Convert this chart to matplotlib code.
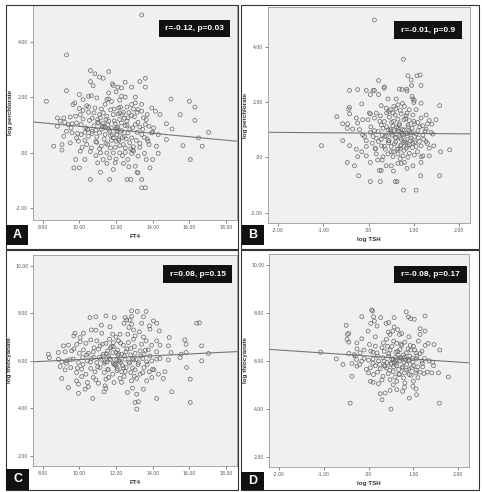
import matplotlib
matplotlib.use("Agg")
import matplotlib.pyplot as plt
from matplotlib.patches import Rectangle
import numpy as np

# ---------------- DATA ----------------
# Panel A: FT4 vs log perchlorate
a_ft4 = [13.4, 9.3, 8.2, 9.3, 10.6, 11.6, 10.85, 13.6, 11.1,
         10.6, 12.5, 13.3, 11.8, 11.85, 12.1, 12.3, 12.85, 13.6, 10.75, 11.3,
         10.0, 10.5, 10.65, 11.5, 12.3, 12.5, 13.05, 11.6, 10.95,
         9.75, 9.65, 10.4, 10.5, 10.85, 11.6, 11.2, 11.9, 12.15, 12.6, 12.85, 13.05, 12.95, 13.2, 13.95, 15.0, 16.0, 16.3, 10.2,
         8.8, 9.15, 9.5, 9.8, 10.05, 10.2, 10.5, 10.8, 11.1, 11.3, 11.5, 11.85, 12.2, 12.35, 12.4, 12.65, 12.85, 13.15, 13.4, 13.5, 13.7, 14.15, 14.4, 15.5, 10.2, 11.15,
         8.8, 8.95, 9.2, 9.4, 9.55, 9.85, 10.1, 10.35, 10.55, 10.8, 11.05, 11.35, 11.6, 11.75, 11.95, 12.1, 12.3, 12.5, 12.75, 13.05, 13.3, 13.6, 13.8, 14.05, 14.75, 15.05, 16.3, 11.2, 12.2,
         9.15, 9.3, 9.6, 9.85, 10.1, 10.3, 10.5, 10.7, 10.95, 11.1, 11.4, 11.65, 11.85, 12.05, 12.25, 12.45, 12.65, 12.85, 13.15, 13.4, 13.7, 13.95, 14.3, 14.75, 16.5, 17.05,
         8.6, 9.05, 9.5, 9.95, 10.4, 10.65, 10.95, 11.2, 11.45, 11.7, 12.0, 12.2, 12.5, 12.75, 12.95, 13.3, 13.75, 14.2, 15.65, 16.7,
         9.05, 10.05, 11.15, 11.5, 11.85, 12.2, 12.5, 12.85, 12.95, 13.2, 13.55, 14.3, 9.8, 10.3, 11.3, 11.65, 12.0, 12.65, 13.65, 14.0, 16.05,
         9.7, 10.0, 11.0, 11.5, 11.95, 12.4, 13.05, 13.2, 13.85, 11.15,
         10.6, 11.65, 12.6, 12.8, 13.15, 13.4, 13.4, 13.6,
         10.9, 11.4, 11.7, 12.0, 12.15, 11.3, 10.7, 12.6, 11.0, 12.35, 11.75, 10.45, 12.9, 11.55, 12.05,
         10.3, 10.45, 10.7, 10.9, 11.0, 11.1, 11.25, 11.35, 11.45, 11.55, 11.6, 11.7, 11.8, 11.9, 11.95, 12.05, 12.1, 12.15, 12.25, 12.3,
         12.4, 12.45, 12.55, 12.6, 12.7, 12.8, 12.9, 13.0, 13.1, 13.2, 13.3, 13.45, 13.55, 13.65, 13.8, 14.0, 11.75, 12.0, 11.4, 10.6,
         10.9, 12.35, 12.7, 11.85, 9.9, 10.15, 9.6, 10.0, 12.2, 13.4]
a_perc = [4.97, 3.53, 1.86, 2.24, 2.97, 2.93, 2.85, 2.69, 2.73,
          2.57, 2.55, 2.57, 2.49, 2.43, 2.37, 2.34, 2.37, 2.37, 2.42, 2.69,
          2.1, 2.04, 2.06, 1.92, 2.04, 2.01, 2.01, 2.16, 1.98,
          1.8, 1.74, 1.7, 1.65, 1.62, 1.94, 1.58, 1.58, 1.62, 1.65, 1.74, 1.8, 1.58, 1.56, 1.62, 1.94, 1.86, 1.65, 1.92,
          1.26, 1.26, 1.29, 1.32, 1.38, 1.53, 1.46, 1.44, 1.38, 1.44, 1.32, 1.38, 1.44, 1.38, 1.46, 1.26, 1.35, 1.46, 1.5, 1.26, 1.38, 1.5, 1.38, 1.38, 1.22, 1.26,
          0.96, 1.14, 1.1, 1.02, 0.9, 1.08, 1.02, 0.9, 1.17, 0.98, 1.08, 0.96, 1.14, 0.9, 1.05, 0.93, 1.08, 0.98, 0.86, 1.02, 0.93, 1.02, 0.96, 0.9, 1.05, 0.86, 1.17, 0.86, 1.2,
          0.6, 0.78, 0.72, 0.54, 0.66, 0.74, 0.6, 0.78, 0.57, 0.72, 0.66, 0.78, 0.54, 0.66, 0.74, 0.6, 0.72, 0.54, 0.74, 0.66, 0.5, 0.72, 0.66, 0.48, 0.54, 0.74,
          0.24, 0.3, 0.36, 0.42, 0.3, 0.18, 0.38, 0.24, 0.34, 0.18, 0.42, 0.26, 0.18, 0.36, 0.22, 0.34, 0.42, 0.24, 0.26, 0.24,
          0.1, 0.06, 0.0, 0.0, 0.0, 0.0, 0.02, -0.02, 0.06, -0.12, -0.02, -0.02, -0.24, -0.24, -0.24, -0.18, -0.22, -0.24, -0.24, -0.24, -0.24,
          -0.54, -0.54, -0.36, -0.38, -0.36, -0.38, -0.48, -0.72, -0.54, -0.7,
          -0.96, -0.96, -0.96, -0.96, -0.7, -0.96, -1.26, -1.26,
          0.82, 0.9, 0.62, 0.86, 0.5, 1.05, 0.7, 1.15, 1.2, 0.55, 0.45, 0.85, 0.1, 1.02, 0.78,
          0.45, 0.85, 1.25, 0.4, 1.1, 0.15, 0.95, 0.5, 1.2, 0.3, 0.85, 1.55, 0.65, 1.15, 0.2, 0.9, 1.4, 0.45, 1.65, 0.8,
          0.3, 1.25, 0.5, 1.0, 1.45, 0.15, 0.9, 1.3, 0.45, 1.1, 0.2, 0.85, 0.55, 1.2, 0.3, 0.75, 1.85, 2.2, 1.75, 0.05,
          -0.1, -0.1, -0.5, -0.6, 0.7, 0.2, 1.05, 1.6, 1.9, 1.75]

# Panel B: log TSH vs log perchlorate
b_tsh = [0.13, 0.77,
         0.87, 0.94, 1.07, 1.14, 1.16, 0.22, 0.34, 0.84,
         -0.42, -0.24, -0.05, 0.1, 0.13, 0.68, 0.74, 0.04, 0.22, 0.43, 0.61, 0.98, 1.01, 0.96, 0.35,
         -0.42, -0.44, -0.15, 0.02, 0.17, 0.28, 0.39, 0.48, 0.56, 0.65, 0.7, 0.79, 0.9, 1.0, 1.05, 1.16, 1.57, 0.54, 0.85, 0.4,
         -0.7, -0.42, -0.27, -0.13, 0.04, 0.13, 0.26, 0.35, 0.46, 0.51, 0.59, 0.65, 0.72, 0.78, 0.83, 0.9, 0.98, 1.09, 1.16, 1.27, 1.34, 1.49, -0.46, -0.24, -0.57, -0.01, 0.28, 0.54, 0.68, 0.87, 1.01, 1.19, 1.3,
         -0.47, -0.35, -0.13, -0.09, 0.04, 0.13, 0.21, 0.32, 0.39, 0.43, 0.49, 0.56, 0.59, 0.65, 0.71, 0.76, 0.79, 0.85, 0.9, 0.96, 1.01, 1.09, 1.2, 1.27, 1.38, 1.42, 0.17, 0.28, 0.72, 0.94, 1.22,
         -1.04, -0.57, -0.42, -0.27, -0.05, 0.08, 0.15, 0.22, 0.29, 0.37, 0.44, 0.5, 0.57, 0.63, 0.71, 0.78, 0.83, 0.9, 0.98, 1.05, 1.12, 1.16, 1.27, 1.34, 1.44, 1.59, 1.79,
         -0.24, -0.05, 0.17, 0.32, 0.43, 0.54, 0.65, 0.76, 0.87, 1.01, 1.16, 1.34, -0.47, 0.04, 0.2, 0.39, 0.5, 0.65, 0.79, 0.98, 1.16,
         -0.31, -0.22, 0.24, 0.28, 0.59, 0.63, 0.04, 0.26, 1.15, 1.57, 0.77, 1.05, 0.72,
         0.52, 0.6, 0.66, 0.45, 0.74, 0.82, 0.36, 0.92, 0.55, 0.7, 0.62, 0.48,
         0.3, 0.35, 0.4, 0.45, 0.5, 0.5, 0.55, 0.6, 0.62, 0.65, 0.68, 0.7, 0.72, 0.75, 0.78, 0.8, 0.82, 0.84, 0.86, 0.88,
         0.9, 0.92, 0.95, 0.97, 1.0, 1.02, 1.05, 1.08, 1.1, 1.13, 0.25, 0.15, 0.1, 0.05, -0.05, -0.15, -0.2, 0.45, 0.6, 0.75,
         0.85, 0.95, 0.3, 0.55, 0.7, 0.85, 1.2, 1.25, 1.3, 1.4]
b_perc = [4.97, 3.55,
          2.95, 2.8, 2.95, 2.98, 2.6, 2.78, 2.5, 2.47,
          2.42, 2.45, 2.42, 2.42, 2.42, 2.47, 2.45, 2.27, 2.27, 2.11, 2.11, 2.11, 2.06, 2.2, 2.55,
          1.81, 1.74, 1.93, 1.6, 1.6, 1.87, 1.78, 1.72, 1.84, 1.9, 1.7, 1.84, 1.72, 1.98, 1.72, 1.96, 1.87, 1.6, 1.6, 1.6,
          1.47, 1.57, 1.42, 1.36, 1.57, 1.42, 1.5, 1.29, 1.45, 1.26, 1.53, 1.38, 1.57, 1.36, 1.5, 1.33, 1.53, 1.26, 1.42, 1.53, 1.33, 1.36, 1.21, 1.24, 1.21, 1.36, 1.17, 1.14, 1.21, 1.17, 1.21, 1.14, 1.21,
          1.05, 1.02, 0.81, 0.75, 0.9, 0.96, 0.93, 1.05, 0.77, 0.99, 0.87, 0.96, 0.72, 1.05, 0.9, 0.81, 0.99, 0.77, 0.93, 1.05, 0.75, 0.96, 0.81, 1.02, 0.9, 0.84, 0.69, 0.65, 0.65, 0.69, 0.65,
          0.42, 0.6, 0.42, 0.29, 0.39, 0.51, 0.33, 0.57, 0.41, 0.29, 0.53, 0.39, 0.48, 0.29, 0.41, 0.53, 0.33, 0.45, 0.51, 0.39, 0.57, 0.41, 0.57, 0.33, 0.41, 0.2, 0.27,
          0.02, 0.05, 0.12, 0.02, 0.12, 0.02, 0.12, 0.05, 0.0, 0.08, 0.02, 0.05, -0.19, -0.19, -0.1, -0.31, -0.31, -0.22, -0.19, -0.31, -0.19,
          -0.31, -0.67, -0.48, -0.48, -0.88, -0.88, -0.88, -0.88, -0.67, -0.67, -1.19, -1.19, -0.22,
          0.8, 0.7, 0.95, 0.6, 0.85, 0.55, 0.75, 0.88, 0.2, 0.3, 1.1, 1.0,
          0.8, 0.4, 1.1, 0.6, 0.95, 0.2, 1.3, 0.55, 0.85, 0.3, 1.15, 0.7, 0.45, 1.0, 0.25, 0.6, 1.4, 0.85, 0.4, 1.1,
          0.15, 0.6, 0.9, 0.35, 1.3, 0.55, 0.85, 0.2, 0.7, 1.1, 1.3, 0.3, 0.75, 1.1, 0.6, 0.2, 1.0, 1.65, 1.75, 1.95,
          2.4, 2.6, -0.1, -0.5, -0.05, -0.4, 0.05, 0.95, 0.5, 1.2]

# Panel C: FT4 vs log thiocyanate
c_ft4 = [12.85, 13.16, 13.64, 11.45, 11.9, 10.58, 10.9, 12.5, 12.85, 12.76, 12.58, 13.5, 12.44, 12.85, 14.04, 14.22, 13.82, 13.85, 14.36, 13.4,
         11.67, 16.4, 16.55, 12.95, 13.27, 12.64, 13.04, 10.9, 11.22, 11.82, 12.22, 10.22, 10.04, 9.7, 9.76, 15.76, 14.9, 14.4, 16.67, 15.82,
         9.13, 9.4, 9.85, 10.36, 10.62, 10.95, 11.13, 11.45, 11.64, 11.85, 12.13, 12.4, 12.67, 12.95, 13.4, 13.64, 13.95, 14.22, 14.86,
         8.31, 8.85, 9.22, 9.58, 10.0, 10.22, 10.49, 10.76, 11.04, 11.31, 11.53, 11.82, 12.07, 12.31, 12.55, 12.8, 13.04, 13.31, 13.53, 13.76, 14.22, 15.0, 15.55, 15.82,
         17.04, 16.67,
         8.36, 8.85, 9.04, 9.31, 9.67, 9.95, 10.18, 10.44, 10.67, 10.95, 11.16, 11.4, 11.64, 11.85, 12.04, 12.25, 12.49, 12.73, 12.95, 13.22, 13.45, 13.67, 13.95, 14.22, 14.85, 15.49,
         8.95, 9.22, 9.53, 9.85, 10.13, 10.36, 10.62, 10.85, 11.13, 11.35, 11.58, 11.82, 12.07, 12.31, 12.55, 12.8, 13.04, 13.31, 13.53, 13.82, 14.07, 14.31, 14.67, 15.85,
         9.04, 9.85, 10.13, 10.44, 10.76, 11.04, 11.45, 11.89, 12.22, 12.44, 12.85, 13.13, 13.67, 13.95, 14.58, 16.05, 9.95,
         9.4, 9.95, 10.31, 11.4, 11.45, 12.62, 13.13, 13.49, 15.04, 13.04, 13.22, 14.22, 16.05, 13.13, 10.49, 10.73,
         11.6, 11.95, 12.1, 11.7, 12.0, 12.2, 11.3, 12.4, 11.85, 10.8, 12.9, 11.5, 12.15,
         10.2, 10.4, 10.6, 10.8, 11.0, 11.1, 11.25, 11.35, 11.5, 11.55, 11.7, 11.75, 11.9, 12.0, 12.05, 12.15, 12.25, 12.35, 12.45, 12.5,
         12.6, 12.7, 12.8, 12.9, 13.0, 13.1, 13.2, 13.35, 13.45, 13.6, 13.7, 13.85, 14.0, 9.5, 9.7, 9.9, 10.05, 9.3, 10.65, 11.2,
         12.0, 12.7, 11.6, 12.3, 13.0, 10.9, 13.5, 14.4, 11.35, 12.9]
c_thio = [8.1, 8.08, 8.08, 7.89, 7.82, 7.82, 7.85, 7.82, 7.87, 7.72, 7.72, 7.85, 7.58, 7.54, 7.68, 7.58, 7.47, 7.33, 7.26, 7.58,
          7.43, 7.58, 7.6, 7.3, 7.22, 7.12, 7.05, 7.29, 7.16, 7.12, 7.12, 7.16, 6.98, 7.05, 7.16, 6.88, 6.98, 6.66, 6.63, 6.7,
          6.63, 6.66, 6.7, 6.74, 6.88, 6.84, 6.63, 6.74, 6.91, 6.77, 6.84, 6.66, 6.77, 6.91, 6.7, 6.84, 6.66, 6.84, 6.63,
          6.28, 6.35, 6.38, 6.42, 6.32, 6.46, 6.32, 6.38, 6.49, 6.28, 6.42, 6.35, 6.46, 6.28, 6.38, 6.52, 6.32, 6.42, 6.28, 6.46, 6.38, 6.35, 6.28, 6.35,
          6.31, 6.0,
          6.14, 6.07, 5.96, 6.0, 6.07, 5.93, 6.14, 6.0, 6.1, 5.93, 6.07, 5.96, 6.1, 5.9, 6.04, 5.93, 6.07, 5.9, 6.04, 5.93, 6.1, 5.96, 6.0, 6.07, 6.04, 6.14,
          5.76, 5.62, 5.72, 5.51, 5.65, 5.44, 5.68, 5.54, 5.72, 5.51, 5.62, 5.44, 5.68, 5.54, 5.72, 5.51, 5.62, 5.44, 5.72, 5.54, 5.62, 5.44, 5.54, 5.72,
          5.26, 5.16, 5.34, 5.09, 5.3, 5.06, 5.23, 5.09, 5.26, 5.34, 5.16, 5.26, 5.16, 5.3, 5.26, 5.23, 5.02,
          4.88, 4.64, 4.81, 4.95, 4.84, 4.67, 4.6, 4.81, 4.7, 4.25, 4.28, 4.42, 4.25, 3.97, 4.91, 4.42,
          6.2, 5.85, 6.25, 6.55, 5.8, 6.0, 6.2, 5.7, 6.6, 6.15, 6.1, 5.95, 6.3,
          5.85, 6.25, 5.95, 6.55, 5.75, 6.15, 6.7, 5.9, 6.3, 5.65, 6.05, 6.6, 5.85, 6.35, 5.6, 6.0, 6.75, 5.8, 6.2, 5.55,
          6.5, 5.95, 6.25, 5.7, 6.6, 6.05, 5.85, 6.2, 5.5, 6.45, 5.85, 6.2, 5.65, 6.05, 6.5, 5.7, 6.8, 5.9, 7.3, 7.5,
          7.0, 7.4, 5.3, 5.1, 5.35, 5.2, 7.0, 6.1, 4.7, 4.85]

# Panel D: log TSH vs log thiocyanate
d_tsh = [0.07, 0.09, 0.84, 1.26, -0.15, 0.11, 0.27, 0.57, 0.89, 0.94, 1.02, -0.5, 0.05, 0.13, 0.19, 0.39, 0.57, 1.15, 1.26, -0.01,
         -0.47, -0.44, 0.48, 0.69, 0.74, 0.44, 0.54, 1.15, -0.15, -0.26, -0.48, -0.44, 0.02, 0.15, 0.33, 0.42, 0.56, 0.63, 0.74, 0.81,
         0.93, 1.0, 1.11, 1.26, 1.33, 1.46, 1.59, -0.26, -0.1, -0.19, 0.1, 0.19, 0.35, 0.48, 0.61, 0.7, 0.84, 0.94, 1.06, 1.19,
         -0.44, -0.32, -1.07, -0.72, -0.27, -0.15, 0.0, 0.1, 0.22, 0.32, 0.41, 0.52, 0.61, 0.7, 0.79, 0.89, 0.99, 1.07, 1.19, 1.43,
         -0.57, -0.37, -0.26, 0.04, 0.15, 0.26, 0.37, 0.47, 0.56, 0.67, 0.76, 0.85, 0.96, 1.06, 1.21, 1.31,
         0.0, 0.11, 0.2, 0.32, 0.44, 0.59, 0.69, 0.78, 0.91, 1.15, 1.24, 1.41, 1.56, 1.78, -0.37,
         0.1, 0.22, 0.48, 0.63, 0.81, 1.0, 0.99, 1.06, 0.04, 0.26, 0.37, 0.48, 0.63, 0.76, 1.07, 0.91, 0.3, -0.41, 1.58, 0.5,
         0.55, 0.62, 0.45, 0.72, 0.5, 0.66, 0.58, 0.8, 0.35, 0.9,
         0.2, 0.25, 0.3, 0.35, 0.4, 0.45, 0.5, 0.52, 0.55, 0.6, 0.62, 0.65, 0.68, 0.7, 0.72, 0.75, 0.78, 0.8, 0.82, 0.85,
         0.88, 0.9, 0.92, 0.95, 0.98, 1.0, 1.03, 1.05, 1.08, 1.1, 1.15, 1.2, 1.25, 0.1, 0.05, -0.05, -0.1, -0.2, -0.3, 0.15,
         0.4, 0.65, 0.9, 0.3, 0.55, 0.8, 1.1, 1.35, 1.45, 0.45]
d_thio = [8.12, 8.08, 8.04, 7.87, 7.84, 7.84, 7.8, 7.8, 7.83, 7.76, 7.73, 7.48, 7.56, 7.66, 7.45, 7.56, 7.41, 7.34, 7.24, 7.24,
          7.1, 7.14, 7.1, 7.1, 7.14, 7.2, 7.24, 7.1, 6.92, 6.75, 6.89, 6.78, 6.68, 6.61, 6.75, 6.61, 6.82, 6.73, 6.64, 6.78,
          6.64, 6.61, 6.82, 6.64, 6.73, 6.68, 6.45, 6.5, 6.45, 6.33, 6.36, 6.33, 6.4, 6.45, 6.36, 6.47, 6.33, 6.45, 6.33, 6.4,
          6.31, 6.26, 6.36, 6.08, 6.06, 5.99, 6.03, 6.08, 5.99, 6.13, 5.94, 6.08, 5.99, 6.13, 5.94, 6.06, 5.94, 6.08, 5.99, 5.94,
          5.85, 5.89, 5.78, 5.71, 5.8, 5.67, 5.78, 5.61, 5.75, 5.64, 5.75, 5.61, 5.71, 5.61, 5.75, 5.53,
          5.5, 5.43, 5.53, 5.36, 5.47, 5.33, 5.43, 5.29, 5.43, 5.53, 5.47, 5.5, 5.5, 5.33, 5.36,
          5.11, 5.05, 5.22, 5.15, 5.08, 5.15, 4.94, 4.83, 5.15, 4.63, 4.66, 4.77, 4.8, 4.73, 4.59, 4.45, 4.38, 4.24, 4.24, 3.99,
          6.05, 5.9, 6.2, 6.1, 5.85, 6.25, 5.95, 6.15, 5.8, 6.0,
          6.2, 5.85, 6.55, 6.0, 5.7, 6.3, 5.9, 6.6, 5.55, 6.15, 5.8, 6.4, 5.45, 6.0, 6.7, 5.7, 6.25, 5.5, 6.05, 5.85,
          6.5, 5.65, 6.2, 5.4, 6.1, 5.8, 6.45, 5.5, 6.2, 5.75, 6.3, 5.9, 6.1, 5.9, 6.4, 5.65, 6.1, 5.85, 6.2, 7.0,
          6.9, 7.3, 7.0, 5.2, 5.0, 4.9, 5.3, 6.0, 5.8, 7.6]

# regression lines (intercept, slope)
a_fit = (1.58, -0.0624)
b_fit = (0.875, -0.013)
c_fit = (5.67, 0.0387)
d_fit = (6.2, -0.126)

stats = ["r=-0.12, p=0.03", "r=-0.01, p=0.9", "r=0.08, p=0.15", "r=-0.08, p=0.17"]
letters = ["A", "B", "C", "D"]
ft4_ticks = [8, 10, 12, 14, 16, 18]
tsh_ticks = [-2, -1, 0, 1, 2]
perc_ticks = [-2, 0, 2, 4]
thio_ticks = [2, 4, 6, 8, 10]

# ---------------- LAYOUT ----------------
W, H = 482, 492
fig = plt.figure(figsize=(W / 100, H / 100), dpi=100)
fig.patch.set_facecolor("white")


def ax_at(l, t, r, b):
    return fig.add_axes([l / W, 1 - b / H, (r - l) / W, (b - t) / H])


def rect(x0, y0, x1, y1, **kw):
    r = Rectangle((x0 / W, 1 - y1 / H), (x1 - x0) / W, (y1 - y0) / H,
                  transform=fig.transFigure, **kw)
    fig.add_artist(r)
    return r


def fmt(v):
    s = "%.2f" % v
    if s.startswith("0."):
        s = s[1:]
    return s


# panel frames
for (x0, y0, x1, y1) in [(6, 5, 238, 249), (241, 5, 479, 249),
                         (6, 250, 238, 490), (241, 250, 479, 490)]:
    rect(x0, y0, x1, y1, fill=False, ec="#333333", lw=0.8)

panels = [
    dict(pos=(33, 5, 237, 220), x=a_ft4, y=a_perc, fit=a_fit, xl=(7.47, 18.6), yl=(-2.42, 5.33),
         xt=ft4_ticks, yt=perc_ticks, xlab="FT4", ylab="log perchlorate",
         box=(159, 20, 230, 37), lbox=(6, 225, 28, 245)),
    dict(pos=(268, 7, 470, 223), x=b_tsh, y=b_perc, fit=b_fit, xl=(-2.22, 2.24), yl=(-2.38, 5.44),
         xt=tsh_ticks, yt=perc_ticks, xlab="log TSH", ylab="log perchlorate",
         box=(394, 21, 462, 39), lbox=(242, 225, 264, 245)),
    dict(pos=(33, 255, 237, 466), x=c_ft4, y=c_thio, fit=c_fit, xl=(7.47, 18.6), yl=(1.58, 10.45),
         xt=ft4_ticks, yt=thio_ticks, xlab="FT4", ylab="log thiocyanate",
         box=(163, 265, 232, 283), lbox=(6, 469, 29, 490)),
    dict(pos=(269, 254, 469, 467), x=d_tsh, y=d_thio, fit=d_fit, xl=(-2.22, 2.24), yl=(1.58, 10.45),
         xt=tsh_ticks, yt=thio_ticks, xlab="log TSH", ylab="log thiocyanate",
         box=(394, 266, 467, 283), lbox=(241, 472, 264, 490)),
]

for i, p in enumerate(panels):
    l, t, r, b = p["pos"]
    ax = ax_at(l, t, r, b)
    ax.set_facecolor("#f0f0f0")
    ax.scatter(p["x"], p["y"], s=8, facecolors="none", edgecolors="#666666", linewidths=0.5, zorder=3)
    xs = np.array(p["xl"])
    ax.plot(xs, p["fit"][0] + p["fit"][1] * xs, color="#777777", lw=0.8, zorder=2)
    ax.set_xlim(*p["xl"])
    ax.set_ylim(*p["yl"])
    ax.set_xticks(p["xt"])
    ax.set_yticks(p["yt"])
    ax.set_xticklabels([fmt(v) for v in p["xt"]])
    ax.set_yticklabels([fmt(v) for v in p["yt"]])
    ax.tick_params(labelsize=3.3, colors="#555555", length=2, width=0.5, pad=1.5)
    for s in ax.spines.values():
        s.set_color("#999999")
        s.set_linewidth(0.6)
    ax.set_xlabel(p["xlab"], fontsize=4.5, fontweight="bold", color="#333333", labelpad=3,
                  family="Liberation Sans")
    ax.set_ylabel(p["ylab"], fontsize=4.5, fontweight="bold", color="#333333", labelpad=2,
                  family="Liberation Sans")
    # stats box
    x0, y0, x1, y1 = p["box"]
    rect(x0, y0, x1, y1, fc="#111111", ec="none")
    fig.text((x0 + x1) / 2 / W, 1 - (y0 + y1) / 2 / H, stats[i], color="white", fontsize=6,
             fontweight="bold", ha="center", va="center", family="Liberation Sans")
    # panel letter
    x0, y0, x1, y1 = p["lbox"]
    rect(x0, y0, x1, y1, fc="#111111", ec="none")
    fig.text((x0 + x1) / 2 / W, 1 - (y0 + y1) / 2 / H, letters[i], color="white", fontsize=9,
             fontweight="bold", ha="center", va="center", family="Liberation Sans")

fig.savefig("out.png", dpi=100)
